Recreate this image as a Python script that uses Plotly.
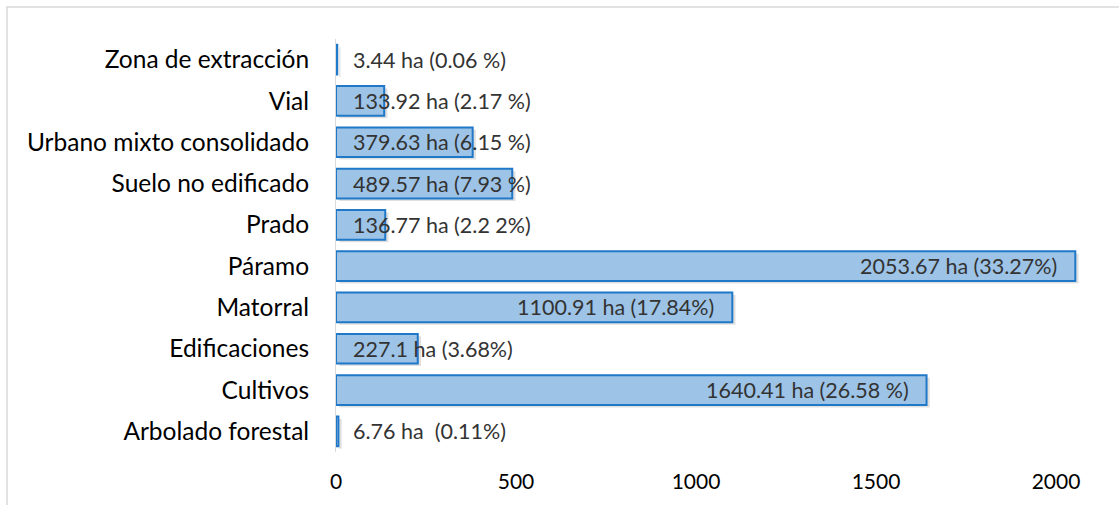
import plotly.graph_objects as go

# land cover classes, bottom to top as drawn
categories = ['Arbolado forestal', 'Cultivos', 'Edificaciones', 'Matorral', 'Páramo',
              'Prado', 'Suelo no edificado', 'Urbano mixto consolidado', 'Vial', 'Zona de extracción']
hectares = [6.76, 1640.41, 227.1, 1100.91, 2053.67, 136.77, 489.57, 379.63, 133.92, 3.44]
labels = ['6.76 ha  (0.11%)', '1640.41 ha (26.58 %)', '227.1 ha (3.68%)', '1100.91 ha (17.84%)',
          '2053.67 ha (33.27%)', '136.77 ha (2.2 2%)', '489.57 ha (7.93 %)', '379.63 ha (6.15 %)',
          '133.92 ha (2.17 %)', '3.44 ha (0.06 %)']
x_ticks = [0, 500, 1000, 1500, 2000]

W, H = 1119, 505
ml, mr, mt, mb = 336, 38, 39, 53
pw, ph = W - ml - mr, H - mt - mb
FONT = 'Lato, Carlito, sans-serif'

fig = go.Figure()

# soft drop shadow behind each bar
fig.add_trace(go.Bar(
    y=categories, x=hectares, base=9, orientation='h', width=0.72, offset=-0.42,
    marker=dict(color='rgba(0,0,0,0.12)', line=dict(width=0)),
    hoverinfo='skip', showlegend=False, cliponaxis=False))

fig.add_trace(go.Bar(
    y=categories, x=hectares, orientation='h', width=0.72,
    marker=dict(color='#9DC3E6', line=dict(color='#1F78C8', width=2)),
    showlegend=False, cliponaxis=False))

# data labels: small bars at the base, big bars inside the end
for cat, val, txt in zip(categories, hectares, labels):
    big = val > 1000
    fig.add_annotation(
        x=val if big else 0, y=cat, text=txt, showarrow=False,
        xanchor='right' if big else 'left', xshift=-16 if big else 15,
        font=dict(family=FONT, size=21.5, color='#333333'))

# light grey chart frame
fig.add_shape(type='rect', xref='paper', yref='paper',
              x0=(7 - ml) / pw, x1=(W + 5 - ml) / pw,
              y0=(H - mb - (H + 5)) / ph, y1=(H - mb - 7) / ph,
              line=dict(color='#D9D9D9', width=1.5), fillcolor='rgba(0,0,0,0)', layer='below')

fig.update_layout(
    width=W, height=H, barmode='overlay',
    margin=dict(l=ml, r=mr, t=mt, b=mb),
    paper_bgcolor='white', plot_bgcolor='white',
    font=dict(family=FONT, color='#000000'),
    xaxis=dict(range=[0, pw / 0.36], tickvals=x_ticks, showgrid=False, zeroline=False,
               showline=False, tickfont=dict(size=21), ticklabelstandoff=15),
    yaxis=dict(categoryorder='array', categoryarray=categories, range=[-0.5, 9.5],
               showgrid=False, zeroline=False, showline=True, linecolor='#D9D9D9', linewidth=1,
               tickfont=dict(size=24.5), ticklabelstandoff=21),
)

# page has no body margin so the figure sits at the window corner
fig.write_html("out.html", config={'displayModeBar': False},
               post_script="document.body.style.margin='0';")
